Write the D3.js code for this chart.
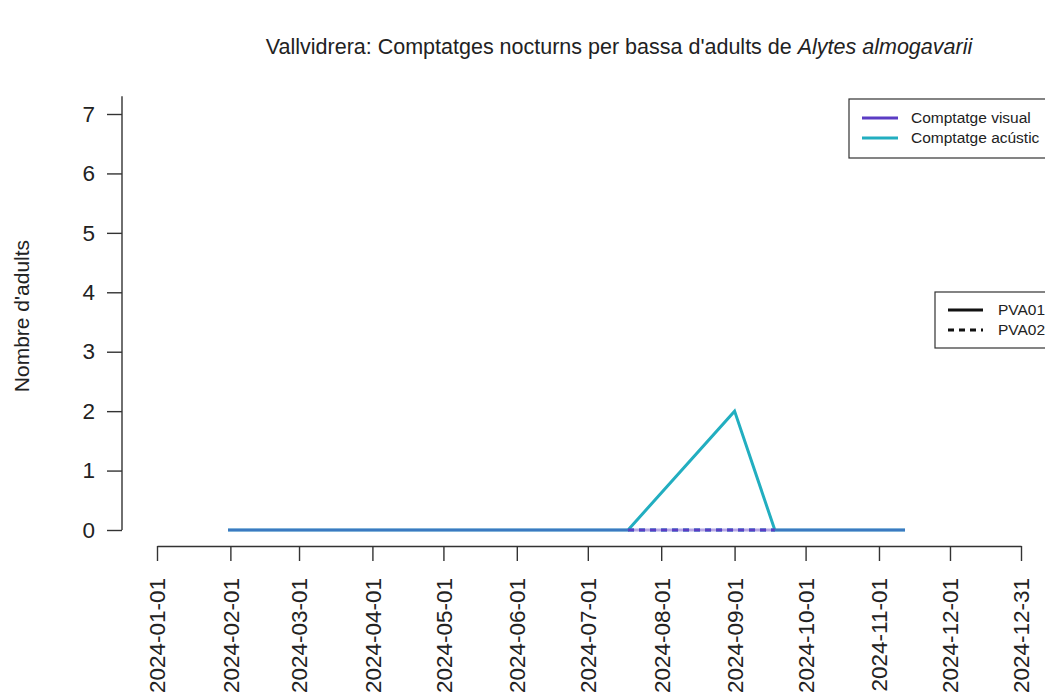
<!DOCTYPE html>
<html>
<head>
<meta charset="utf-8">
<script src="https://cdn.jsdelivr.net/npm/d3@7"></script>
<style>
  body { margin: 0; background: #fff; }
  svg { display: block; font-family: "Liberation Sans", Arial, sans-serif; }
</style>
</head>
<body>
<div id="chart"></div>
<script>
let width = 1045,
    height = 698;

// x axis tick dates
const tickDates = ["2024-01-01", "2024-02-01", "2024-03-01", "2024-04-01", "2024-05-01", "2024-06-01",
                   "2024-07-01", "2024-08-01", "2024-09-01", "2024-10-01", "2024-11-01", "2024-12-01", "2024-12-31"];
const yTicks = [0, 1, 2, 3, 4, 5, 6, 7];

// sampling nights per pond
const datesPVA01 = ["2024-01-31", "2024-03-06", "2024-04-10", "2024-05-15", "2024-06-13",
                    "2024-07-18", "2024-09-01", "2024-09-18", "2024-10-16", "2024-11-12"];
const visualPVA01   = [0, 0, 0, 0, 0, 0, 0, 0, 0, 0];
const acousticPVA01 = [0, 0, 0, 0, 0, 0, 2, 0, 0, 0];

const datesPVA02 = ["2024-07-18", "2024-09-01", "2024-09-18"];
const visualPVA02   = [0, 0, 0];
const acousticPVA02 = [0, 0, 0];

const methods = ["Comptatge visual", "Comptatge acústic"];
const ponds = ["PVA01", "PVA02"];

const purple = "#5b3cc4",
      cyan = "#22aec0";

const parse = d3.timeParse("%Y-%m-%d");

const x = d3.scaleTime()
    .domain([parse("2024-01-01"), parse("2024-12-31")])
    .range([157, 1021]);

const y = d3.scaleLinear()
    .domain([0, 7])
    .range([530, 114]);

const svg = d3.select("#chart").append("svg")
    .attr("width", width)
    .attr("height", height);

// title
const title = svg.append("text")
    .attr("x", 619)
    .attr("y", 54)
    .attr("text-anchor", "middle")
    .attr("font-size", 21.5)
    .attr("fill", "#222");
title.append("tspan").text("Vallvidrera: Comptatges nocturns per bassa d'adults de ");
title.append("tspan").attr("font-style", "italic").text("Alytes almogavarii");

// y axis
const yAxis = svg.append("g")
    .attr("transform", "translate(122,0)")
    .call(d3.axisLeft(y).tickValues(yTicks).tickSize(15).tickPadding(12).tickFormat(d3.format("d")));
yAxis.select(".domain").attr("d", `M0,${y(7.3)}V${y(0)}`);
yAxis.selectAll("line, path").attr("stroke", "#333").attr("stroke-width", 1.4);
yAxis.selectAll("text").attr("font-size", 22.5).attr("fill", "#222").attr("font-family", "Liberation Sans, Arial, sans-serif");

svg.append("text")
    .attr("transform", `translate(29,${y(3.6)}) rotate(-90)`)
    .attr("text-anchor", "middle")
    .attr("font-size", 21)
    .attr("fill", "#222")
    .text("Nombre d'adults");

// x axis
const xAxis = svg.append("g")
    .attr("transform", "translate(0,546)")
    .call(d3.axisBottom(x).tickValues(tickDates.map(parse)).tickSize(15).tickSizeOuter(0)
        .tickFormat(d3.timeFormat("%Y-%m-%d")));
xAxis.selectAll("line, path").attr("stroke", "#333").attr("stroke-width", 1.4);
xAxis.selectAll("text")
    .attr("font-size", 22.5)
    .attr("fill", "#222")
    .attr("font-family", "Liberation Sans, Arial, sans-serif")
    .attr("transform", "rotate(-90)")
    .attr("text-anchor", "end")
    .attr("dy", "0.35em")
    .attr("x", -32)
    .attr("y", 0);

// series
const line = d3.line()
    .x(d => x(d.date))
    .y(d => y(d.value));

const series = (dates, values) => dates.map((d, i) => ({ date: parse(d), value: values[i] }));

const lines = [
    { data: series(datesPVA01, acousticPVA01), color: cyan, dash: null, opacity: 1 },
    { data: series(datesPVA01, visualPVA01), color: purple, dash: null, opacity: 0.45 },
    { data: series(datesPVA02, acousticPVA02), color: cyan, dash: "6,5", opacity: 1 },
    { data: series(datesPVA02, visualPVA02), color: purple, dash: "6,5", opacity: 1 }
];

svg.append("g")
    .selectAll("path")
    .data(lines)
    .enter()
    .append("path")
    .attr("fill", "none")
    .attr("stroke", d => d.color)
    .attr("stroke-width", 3)
    .attr("stroke-opacity", d => d.opacity)
    .attr("stroke-dasharray", d => d.dash)
    .attr("d", d => line(d.data));

// legend: method colours
const leg1 = svg.append("g").attr("transform", "translate(849,99)");
leg1.append("rect")
    .attr("width", 220).attr("height", 59)
    .attr("fill", "#fff").attr("stroke", "#333").attr("stroke-width", 1.2);
leg1.selectAll("g")
    .data(methods)
    .enter()
    .append("g")
    .attr("transform", (d, i) => `translate(0,${19 + i * 20})`)
    .each(function(d, i) {
        const g = d3.select(this);
        g.append("line").attr("x1", 13).attr("x2", 49)
            .attr("stroke", i === 0 ? purple : cyan).attr("stroke-width", 3);
        g.append("text").attr("x", 62).attr("dy", "0.35em")
            .attr("font-size", 15.5).attr("fill", "#222").text(d);
    });

// legend: pond line types
const leg2 = svg.append("g").attr("transform", "translate(935,292)");
leg2.append("rect")
    .attr("width", 140).attr("height", 56)
    .attr("fill", "#fff").attr("stroke", "#333").attr("stroke-width", 1.2);
leg2.selectAll("g")
    .data(ponds)
    .enter()
    .append("g")
    .attr("transform", (d, i) => `translate(0,${18 + i * 20})`)
    .each(function(d, i) {
        const g = d3.select(this);
        g.append("line").attr("x1", 13).attr("x2", 48)
            .attr("stroke", "#111").attr("stroke-width", 3)
            .attr("stroke-dasharray", i === 0 ? null : "6,5");
        g.append("text").attr("x", 63).attr("dy", "0.35em")
            .attr("font-size", 15.5).attr("fill", "#222").text(d);
    });
</script>
</body>
</html>
